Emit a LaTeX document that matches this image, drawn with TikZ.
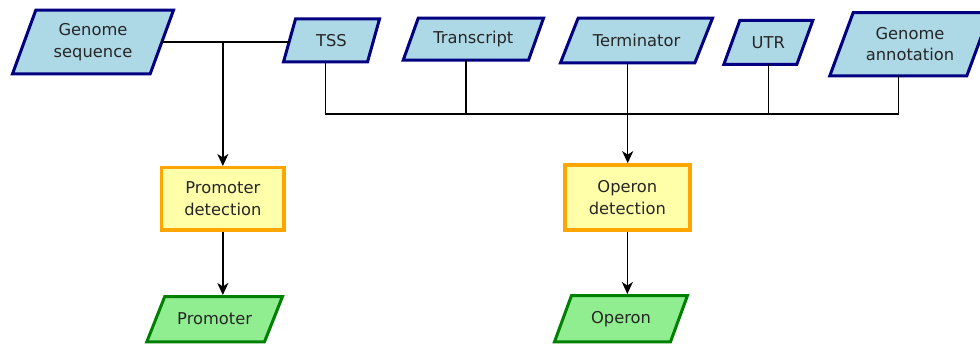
\documentclass[tikz,border=0pt]{standalone}
\usepackage{fontspec}
\setmainfont{DejaVu Sans}
\usetikzlibrary{arrows.meta,calc,backgrounds}
\definecolor{inblue}{HTML}{ADD8E6}
\definecolor{inborder}{HTML}{000080}
\definecolor{procfill}{HTML}{FFFFAA}
\definecolor{procborder}{HTML}{FFA500}
\definecolor{outfill}{HTML}{90EE90}
\definecolor{outborder}{HTML}{008000}

% slanted data box: name, outline style, x, y, width at mid height, height, slant, text
\newcommand\databox[8]{%
  \node[boxtext, minimum width=#5pt, minimum height=#6pt] (#1) at (#3,#4) {#8};
  \begin{scope}[on background layer]
    \draw[#2] ($(#1.south west)+(-#7/2,0)$) -- ($(#1.south east)+(-#7/2,0)$)
      -- ($(#1.north east)+(#7/2,0)$) -- ($(#1.north west)+(#7/2,0)$) -- cycle;
  \end{scope}
  \coordinate (#1-bot) at ($(#1.south)+(-#7/2,0)$);
  \coordinate (#1-top) at ($(#1.north)+(#7/2,-1.5)$);
}

\begin{document}
\begin{tikzpicture}[x=1pt,y=-1pt,
  every node/.style={font=\fontsize{16.3}{21.5}\selectfont, align=center, text=black!85},
  boxtext/.style={rectangle, inner sep=0pt, outer sep=0pt},
  indata/.style={draw=inborder, fill=inblue, line width=3pt, line join=miter},
  outdata/.style={draw=outborder, fill=outfill, line width=3pt, line join=miter},
  procbox/.style={rectangle, draw=procborder, fill=procfill, line width=3.4pt,
                  inner sep=1pt, outer sep=1.7pt},
  link/.style={line width=1.5pt},
  flow/.style={link, -{Stealth[length=12pt,width=11pt,inset=3.5pt]}}
]
\useasboundingbox (0,0) rectangle (980,345);

% input data
\databox{gseq}{indata}{93}{42}{137.7}{63.7}{23.3}{Genome\\sequence}
\databox{tss}{indata}{331.5}{40.5}{84}{43}{12}{TSS}
\databox{tscr}{indata}{473.35}{39.2}{125.3}{42}{15}{Transcript}
\databox{term}{indata}{636.5}{40.5}{134.4}{44.6}{17.6}{Terminator}
\databox{utr}{indata}{768.3}{42.5}{73}{44}{16}{UTR}
\databox{gann}{indata}{910}{44.2}{137}{63.3}{23.4}{Genome\\annotation}

% processing steps
\node[procbox, minimum width=122.3pt, minimum height=62.3pt] (pdet) at (222.85,198.85) {Promoter\\detection};
\node[procbox, minimum width=125pt, minimum height=65.3pt]   (odet) at (627.35,197.5)  {Operon\\detection};

% results
\databox{prom}{outdata}{214.65}{319.15}{117.7}{45.3}{18}{Promoter}
\databox{oper}{outdata}{621}{318.65}{116}{46.3}{17}{Operon}

% connectors
\coordinate (bus) at (0,113.8);
\draw[link] (gseq.east) -- (gseq.east -| tss.west);
\draw[flow] (gseq.east -| pdet.north) -- (pdet.north);
\draw[link] (tss-bot) |- (gann-bot |- bus) -- (gann-bot);
\draw[link] (tscr-bot) -- (tscr-bot |- bus);
\draw[link] (utr.south) -- (utr.south |- bus);
\draw[flow] (term-bot) -- (term-bot |- odet.north);
\draw[flow] (pdet.south) -- (pdet.south |- prom-top);
\draw[flow] (odet.south) -- (odet.south |- oper-top);
\end{tikzpicture}
\end{document}
